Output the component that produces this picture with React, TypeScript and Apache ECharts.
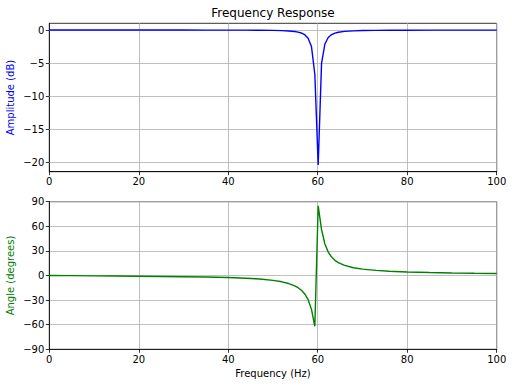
import React, { useEffect, useRef } from "react";
import * as echarts from "echarts";

const freqs = [0, 5, 10, 15, 20, 25, 30, 35, 40, 44, 47, 50, 52, 53.5, 54.85, 55.6, 56.35, 57.1, 57.85, 58.6, 59.35, 60.1, 60.85, 61.6, 62.35, 63.1, 63.85, 64.6, 66, 68, 70, 73, 76, 80, 85, 90, 95, 100];
const amplitudeDb = [0, 0, 0, -0.001, -0.001, -0.002, -0.003, -0.006, -0.011, -0.019, -0.031, -0.056, -0.09, -0.14, -0.227, -0.313, -0.453, -0.707, -1.225, -2.5, -6.68, -20.4, -5.04, -2.11, -1.12, -0.685, -0.461, -0.332, -0.202, -0.118, -0.078, -0.048, -0.033, -0.022, -0.015, -0.011, -0.008, -0.007];
const angleDeg = [0, -0.2, -0.4, -0.6, -0.9, -1.2, -1.5, -1.9, -2.5, -3.3, -4.3, -5.9, -7.7, -9.8, -12.6, -14.9, -18.0, -22.5, -29.5, -41.3, -62.0, 85.0, 56.0, 38.4, 28.5, 22.5, 18.5, 15.7, 12.3, 9.5, 7.8, 6.2, 5.2, 4.3, 3.6, 3.1, 2.7, 2.4];

const ampTicks = [-20, -15, -10, -5, 0];
const ampRange = [-21.42, 1.02];
const freqRange = [0, 100];
const angleRange = [-90, 90];

const FONT = "DejaVu Sans";
const fmt = (v: number) => (v < 0 ? "\u2212" + Math.abs(v) : String(v));

export default function App() {
  const ref = useRef<HTMLDivElement>(null);
  useEffect(() => {
    if (!ref.current) return;
    const chart = echarts.init(ref.current, null, { renderer: "svg" });
    const axisLine = { show: true, onZero: false, lineStyle: { color: "#000", width: 0.8 } };
    const axisTick = { show: true, inside: false, length: 3.5, lineStyle: { color: "#000", width: 0.8 } };
    const axisLabel = { color: "#000", fontFamily: FONT, fontSize: 10, margin: 5, formatter: fmt };
    const split = { show: true, lineStyle: { color: "#b0b0b0", width: 0.8 } };
    chart.setOption({
      animation: false,
      backgroundColor: "#fff",
      graphic: [
        {
          type: "text",
          x: 273,
          y: 13,
          style: { text: "Frequency Response", font: `12px "${FONT}"`, fill: "#000", textAlign: "center", textVerticalAlign: "middle" },
        },
      ],
      grid: [
        { left: 49.3, top: 23.3, width: 447.4, height: 148.4, show: true, borderColor: "#000", borderWidth: 0.8, backgroundColor: "transparent", outerBoundsMode: "none", containLabel: false },
        { left: 49.3, top: 201.7, width: 447.4, height: 147.6, show: true, borderColor: "#000", borderWidth: 0.8, backgroundColor: "transparent", outerBoundsMode: "none", containLabel: false },
      ],
      xAxis: [
        {
          type: "value", gridIndex: 0, min: freqRange[0], max: freqRange[1], interval: 20,
          axisLine, axisTick, axisLabel, splitLine: split,
        },
        {
          type: "value", gridIndex: 1, min: freqRange[0], max: freqRange[1], interval: 20,
          axisLine, axisTick, axisLabel, splitLine: split,
          name: "Frequency (Hz)", nameLocation: "middle", nameGap: 19, nameMoveOverlap: false,
          nameTextStyle: { color: "#000", fontFamily: FONT, fontSize: 10 },
        },
      ],
      yAxis: [
        {
          type: "value", gridIndex: 0, min: ampRange[0], max: ampRange[1],
          axisLine,
          axisTick: { ...axisTick, customValues: ampTicks },
          axisLabel: { ...axisLabel, customValues: ampTicks },
          splitLine: { show: false },
          name: "Amplitude (dB)", nameLocation: "middle", nameGap: 34, nameRotate: 90, nameMoveOverlap: false,
          nameTextStyle: { color: "#0000ff", fontFamily: FONT, fontSize: 10 },
        },
        {
          type: "value", gridIndex: 1, min: angleRange[0], max: angleRange[1], interval: 30,
          axisLine, axisTick, axisLabel, splitLine: split,
          name: "Angle (degrees)", nameLocation: "middle", nameGap: 34, nameRotate: 90, nameMoveOverlap: false,
          nameTextStyle: { color: "#008000", fontFamily: FONT, fontSize: 10 },
        },
      ],
      series: [
        {
          type: "line", xAxisIndex: 0, yAxisIndex: 0, z: 3,
          data: freqs.map((f, i) => [f, amplitudeDb[i]]),
          showSymbol: false, symbol: "none",
          lineStyle: { color: "#0000ff", width: 1.4 },
          markLine: {
            silent: true, symbol: "none", z: 1,
            label: { show: false },
            lineStyle: { color: "#b0b0b0", width: 0.8, type: "solid" },
            data: ampTicks.map((t) => ({ yAxis: t })),
          },
        },
        {
          type: "line", xAxisIndex: 1, yAxisIndex: 1, z: 3,
          data: freqs.map((f, i) => [f, angleDeg[i]]),
          showSymbol: false, symbol: "none",
          lineStyle: { color: "#008000", width: 1.4 },
        },
      ],
    });
    return () => chart.dispose();
  }, []);
  return <div ref={ref} style={{ position: "fixed", left: 0, top: 0, width: 512, height: 387, background: "#fff" }} />;
}
